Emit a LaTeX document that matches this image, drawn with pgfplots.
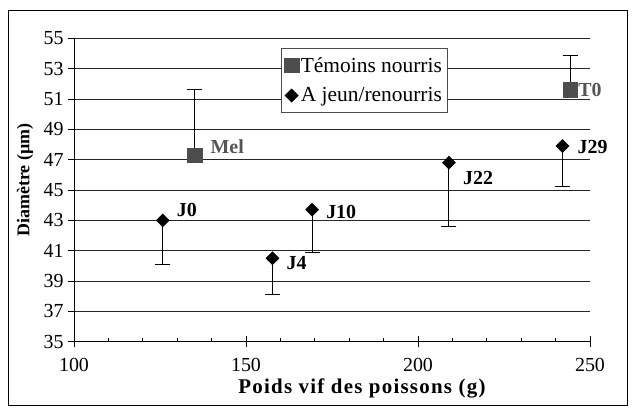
\documentclass[border=0pt]{standalone}
\usepackage{fontspec}
\setmainfont{Liberation Serif}
\usepackage{pgfplots}
\pgfplotsset{compat=1.18}
\definecolor{tem}{HTML}{4D4D4D}
\definecolor{temlab}{HTML}{555555}
\begin{document}
\begin{tikzpicture}[x=1bp,y=1bp]
\useasboundingbox (0,0) rectangle (633,409);
\draw[line width=0.9bp] (8,4) rectangle (627,399);
\begin{axis}[
  at={(74bp,67.3bp)}, anchor=south west,
  scale only axis, width=516bp, height=303.4bp,
  xmin=100, xmax=250, ymin=35, ymax=55,
  xtick={100,150,200,250}, minor x tick num=4,
  ytick={35,37,...,55},
  axis x line*=bottom, axis y line*=left,
  axis line style={black, line width=0.8bp},
  ymajorgrids, grid style={black!85, line width=0.7bp},
  xtick align=inside, ytick align=outside,
  major tick length=6bp, minor tick length=4bp,
  tick style={black, line width=0.7bp},
  extra x ticks={100,150,200,250}, extra x tick labels={},
  extra x tick style={xtick align=outside, major tick length=5bp, grid=none},
  /pgf/number format/assume math mode=true,
  ticklabel style={font=\fontsize{20}{22}\selectfont},
  xticklabel style={yshift=-13bp},
  yticklabel style={xshift=-1bp},
  xlabel={Poids vif des poissons (g)},
  ylabel={Diamètre (µm)},
  xlabel style={font=\bfseries\fontsize{21}{24}\selectfont\addfontfeature{LetterSpace=6},
    at={(axis description cs:0.558,-0.155)}, anchor=center},
  ylabel style={font=\bfseries\fontsize{18}{20}\selectfont,
    at={(axis description cs:-0.095,0.533)}, anchor=center, rotate=0},
  legend style={at={(0.401,0.968)}, anchor=north west, draw=black!70, fill=white,
    font=\fontsize{21.5}{24}\selectfont, line width=0.7bp, inner xsep=3bp, inner ysep=7bp,
    row sep=10bp},
  legend cell align=left,
  clip=false,
]
\addplot[only marks, mark=square*, mark size=7.3bp, color=tem,
  error bars/.cd, y dir=plus, y explicit,
  error bar style={black, line width=1bp},
  error mark options={rotate=90, mark size=7.5bp, black, line width=1bp}]
  coordinates {(135,47.3) +- (0,4.3) (244.2,51.6) +- (0,2.25)};
\addlegendentry{Témoins nourris}
\addplot[only marks, mark=square*, mark size=4.6bp, mark options={rotate=45}, color=black,
  error bars/.cd, y dir=minus, y explicit,
  error bar style={black, line width=1bp},
  error mark options={rotate=90, mark size=7.5bp, black, line width=1bp}]
  coordinates {(125.8,43.0) +- (0,2.9) (157.7,40.5) +- (0,2.4) (169.2,43.7) +- (0,2.8)
               (209,46.8) +- (0,4.2) (242,47.9) +- (0,2.7)};
\addlegendentry{A jeun/renourris}
\begin{scope}[every node/.style={font=\bfseries\fontsize{20}{22}\selectfont, anchor=west, inner sep=0pt}]
\node[temlab] at ([xshift=16bp,yshift=8bp]axis cs:135,47.3) {Mel};
\node[temlab] at ([xshift=8bp,yshift=0bp]axis cs:244.2,51.6) {T0};
\node at ([xshift=14bp,yshift=10bp]axis cs:125.8,43.0) {J0};
\node at ([xshift=14bp,yshift=-5bp]axis cs:157.7,40.5) {J4};
\node at ([xshift=14bp,yshift=-2bp]axis cs:169.2,43.7) {J10};
\node at ([xshift=14bp,yshift=-15bp]axis cs:209,46.8) {J22};
\node at ([xshift=15bp,yshift=-1bp]axis cs:242,47.9) {J29};
\end{scope}
\end{axis}
\end{tikzpicture}
\end{document}
